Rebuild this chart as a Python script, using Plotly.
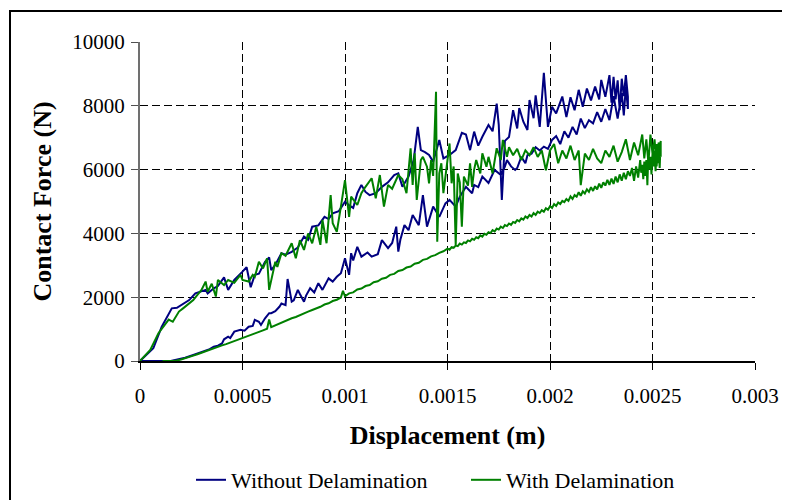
import plotly.graph_objects as go

# ---- data: (displacement [m], contact force [N]) ----
without_loading = [
    (0, 0), (0.000065, 400), (0.000106, 1075), (0.000155, 1650), (0.00018, 1670),
    (0.0002, 1750), (0.00024, 1910), (0.00027, 2120), (0.00029, 2170), (0.00032, 2230),
    (0.00033, 2120), (0.00036, 2280), (0.00038, 2350), (0.00041, 2620), (0.00043, 2230),
    (0.00046, 2540), (0.0005, 2800), (0.00052, 2940), (0.00054, 2310), (0.00056, 2700),
    (0.00058, 2740), (0.00061, 3110), (0.00063, 3250), (0.00064, 2850), (0.00066, 3010),
    (0.00069, 3380), (0.00071, 3330), (0.00074, 3420), (0.00077, 3560), (0.0008, 3900),
    (0.00082, 3800), (0.00084, 4210), (0.00087, 4250), (0.0009, 4520), (0.00092, 4450),
    (0.00094, 4630), (0.00097, 4700), (0.001, 4990), (0.00102, 4880), (0.00104, 4800),
    (0.00106, 5260), (0.00108, 5520), (0.0011, 5300), (0.00112, 5200), (0.00115, 5260),
    (0.00118, 5460), (0.00121, 5600), (0.00124, 5830), (0.00126, 5880), (0.00128, 5460),
    (0.00131, 5780), (0.001335, 6300), (0.001355, 7340), (0.00137, 6610), (0.00139, 6550),
    (0.00141, 6460), (0.00143, 6250), (0.00146, 6930), (0.00148, 6350), (0.00151, 6460),
    (0.00154, 6610), (0.00157, 7150), (0.00159, 7100), (0.00161, 6610), (0.00163, 7190),
    (0.00165, 6750), (0.00167, 7030), (0.0017, 7400), (0.00172, 7200), (0.00174, 8070),
    (0.00175, 7400), (0.001765, 5050), (0.00178, 6900), (0.0018, 7020), (0.00182, 7860),
    (0.00184, 7290), (0.00185, 7930), (0.00187, 7500), (0.00189, 7240), (0.0019, 8180),
    (0.00192, 7610), (0.00193, 8330), (0.00195, 7340), (0.00197, 9030), (0.00199, 7340),
    (0.00201, 7970), (0.00203, 7760), (0.00206, 8290), (0.00208, 7650), (0.0021, 8270),
    (0.00212, 7860), (0.00214, 8500), (0.00216, 7970), (0.00218, 8540), (0.0022, 8170),
    (0.00222, 8600), (0.00224, 8200), (0.00225, 8810), (0.00227, 8280), (0.00229, 8960),
    (0.0023, 8100), (0.00231, 8910), (0.00232, 8200), (0.00233, 8800), (0.00234, 7860),
    (0.00235, 8850), (0.00236, 8300), (0.00237, 8960), (0.00238, 8280),
]
without_unloading = [
    (0.00238, 7900), (0.00237, 8600), (0.00236, 7700), (0.00235, 8400), (0.00233, 7600),
    (0.00231, 8300), (0.00229, 7550), (0.00227, 7900), (0.00225, 7500), (0.00223, 7800),
    (0.00221, 7450), (0.00219, 7550), (0.00217, 7300), (0.00215, 7600), (0.00213, 7100),
    (0.00211, 7340), (0.00209, 7000), (0.00207, 7200), (0.00205, 6800), (0.00203, 7050),
    (0.00201, 6930), (0.00199, 6650), (0.00197, 6720), (0.00195, 6600), (0.00193, 6700),
    (0.00191, 6500), (0.00189, 6450), (0.00188, 6200), (0.00186, 6400), (0.00184, 6050),
    (0.00183, 5990), (0.00181, 6100), (0.00179, 6300), (0.00178, 6090), (0.00176, 5830),
    (0.00173, 5990), (0.0017, 5580), (0.00167, 5780), (0.00165, 5450), (0.00163, 5520),
    (0.00162, 5260), (0.00159, 5460), (0.00156, 5150), (0.00154, 4840), (0.00151, 5050),
    (0.00149, 4940), (0.00146, 4520), (0.00143, 4840), (0.0014, 4210), (0.00138, 5200),
    (0.00137, 4630), (0.00136, 4260), (0.00133, 4580), (0.00131, 4100), (0.00129, 4260),
    (0.00127, 3800), (0.00126, 3430), (0.00125, 4210), (0.00123, 3700), (0.00121, 3540),
    (0.00118, 3790), (0.00116, 3350), (0.00113, 3270), (0.00111, 3400), (0.00108, 3270),
    (0.00106, 3580), (0.00104, 3150), (0.00103, 3380), (0.00102, 2700), (0.001, 3220),
    (0.00098, 2750), (0.00096, 2640), (0.00094, 2490), (0.00092, 2590), (0.00089, 2230),
    (0.00087, 2440), (0.00085, 2150), (0.00083, 2280), (0.00081, 2050), (0.0008, 1860),
    (0.00078, 2100), (0.00077, 2230), (0.00075, 1900), (0.00074, 1860), (0.00072, 2570),
    (0.00071, 1750), (0.00069, 1800), (0.00068, 1700), (0.00066, 1560), (0.00064, 1500),
    (0.00063, 1500), (0.00061, 1340), (0.00059, 1130), (0.00058, 1230), (0.00056, 1290),
    (0.00055, 1100), (0.00053, 1075), (0.00051, 950), (0.00049, 980), (0.00046, 920),
    (0.00044, 720), (0.00043, 760), (0.00041, 680), (0.0004, 550), (0.00038, 480),
    (0.00036, 450), (0.00034, 370), (0.0003, 290), (0.00026, 190), (0.00022, 100),
    (0.00018, 40), (0.00015, 0), (0.0, 0),
]
with_loading = [
    (0, 0), (0.00005, 350), (0.00009, 870), (0.00012, 1130), (0.00014, 1300),
    (0.00016, 1230), (0.00019, 1550), (0.00021, 1650), (0.00024, 1810), (0.00026, 1910),
    (0.00028, 2070), (0.0003, 2230), (0.00032, 2490), (0.00033, 2170), (0.00035, 2420),
    (0.00037, 2020), (0.00038, 2540), (0.00041, 2380), (0.00043, 2540), (0.00046, 2450),
    (0.00049, 2700), (0.0005, 2540), (0.00053, 2490), (0.00055, 2700), (0.00056, 2640),
    (0.00058, 3110), (0.0006, 2900), (0.00062, 3220), (0.00063, 2230), (0.00066, 3110),
    (0.00067, 2950), (0.00069, 3380), (0.00071, 3300), (0.00074, 3690), (0.00076, 3220),
    (0.00078, 3790), (0.0008, 3480), (0.00082, 4000), (0.00084, 3690), (0.00086, 4210),
    (0.00088, 3640), (0.00089, 4420), (0.00091, 3690), (0.00093, 5200), (0.00094, 4320),
    (0.00096, 4050), (0.00098, 4840), (0.001, 5670), (0.00102, 4520), (0.00103, 5150),
    (0.00106, 4890), (0.00108, 5260), (0.0011, 5460), (0.00113, 5730), (0.00115, 5100),
    (0.00117, 5830), (0.00119, 4840), (0.00121, 5520), (0.00123, 5400), (0.00126, 5830),
    (0.00128, 5700), (0.0013, 5260), (0.00132, 6670), (0.00133, 5520), (0.00134, 6510),
    (0.00135, 5050), (0.00137, 6300), (0.00138, 6400), (0.0014, 6090), (0.00141, 5570),
    (0.00142, 6300), (0.00143, 5800), (0.001444, 8440), (0.00145, 3740), (0.00146, 5880),
    (0.00147, 6200), (0.00148, 5260), (0.0015, 6400), (0.00151, 6820), (0.00152, 5570),
    (0.00153, 6100), (0.00154, 3640), (0.00155, 5880), (0.00156, 5600), (0.00157, 4210),
    (0.00158, 5780), (0.0016, 5500), (0.00161, 6200), (0.00162, 5460), (0.00163, 6000),
    (0.00164, 6300), (0.00166, 5880), (0.00167, 6510), (0.00169, 6090), (0.0017, 6400),
    (0.00172, 5880), (0.00174, 6670), (0.00176, 6300), (0.00177, 6930), (0.00179, 6400),
    (0.0018, 6700), (0.00182, 6450), (0.00184, 6650), (0.00186, 6300), (0.00188, 6600),
    (0.0019, 6450), (0.00192, 6700), (0.00194, 6400), (0.00196, 6600), (0.00198, 5980),
    (0.002, 6600), (0.00202, 6800), (0.00204, 6200), (0.00206, 6600), (0.00208, 6350),
    (0.0021, 6750), (0.00212, 6300), (0.00214, 6600), (0.00215, 5510), (0.00217, 6500),
    (0.00219, 6300), (0.00221, 6650), (0.00223, 6350), (0.00225, 6200), (0.00227, 6600),
    (0.00229, 6400), (0.00231, 6750), (0.00233, 6250), (0.00235, 6550), (0.00237, 6950),
    (0.00239, 6300), (0.00241, 6850), (0.00243, 6450), (0.00245, 7100), (0.00246, 6350),
    (0.00247, 6950), (0.00248, 6200), (0.00249, 7100), (0.0025, 6500), (0.00251, 6950),
    (0.00252, 6100), (0.00253, 6850), (0.00254, 6400),
]
with_unloading = [
    (0.00254, 6900), (0.002535, 6050), (0.00253, 6700), (0.002525, 6200), (0.00252, 6800),
    (0.002515, 5950), (0.00251, 6600), (0.002505, 6100), (0.0025, 6500), (0.002495, 5850),
    (0.00249, 6400), (0.002485, 6000), (0.00248, 6550), (0.002475, 5510), (0.00247, 6300),
    (0.002465, 5800), (0.00246, 6250), (0.002455, 5700), (0.00245, 6150), (0.002445, 5900),
    (0.00244, 6300), (0.00243, 5750), (0.00242, 6100), (0.00241, 5650), (0.0024, 6050),
    (0.00239, 5800), (0.00238, 5950), (0.00237, 5700), (0.00236, 5900), (0.00235, 5650),
    (0.00234, 5850), (0.00233, 5600), (0.00232, 5780), (0.00231, 5550), (0.0023, 5720),
    (0.00229, 5520), (0.00228, 5680), (0.00227, 5500), (0.00226, 5600), (0.00225, 5430),
    (0.00224, 5560), (0.00223, 5380), (0.00222, 5480), (0.00221, 5330), (0.0022, 5450),
    (0.00219, 5300), (0.00218, 5380), (0.00217, 5250), (0.00216, 5320), (0.00215, 5180),
    (0.00214, 5290), (0.00213, 5150), (0.00212, 5200), (0.00211, 5080), (0.0021, 5160),
    (0.00209, 5020), (0.00208, 5080), (0.00207, 4980), (0.00206, 5020), (0.00205, 4920),
    (0.00204, 4970), (0.00203, 4860), (0.00202, 4920), (0.00201, 4800), (0.002, 4850),
    (0.00199, 4740), (0.00198, 4790), (0.00197, 4680), (0.00196, 4730), (0.00195, 4640),
    (0.00194, 4680), (0.00193, 4580), (0.00192, 4640), (0.00191, 4530), (0.0019, 4580),
    (0.00189, 4480), (0.00188, 4530), (0.00187, 4430), (0.00186, 4470), (0.00185, 4380),
    (0.00184, 4420), (0.00183, 4330), (0.00182, 4360), (0.00181, 4270), (0.0018, 4310),
    (0.00179, 4230), (0.00178, 4260), (0.00177, 4170), (0.00176, 4210), (0.00175, 4120),
    (0.00174, 4150), (0.00173, 4060), (0.00172, 4100), (0.00171, 4010), (0.0017, 4040),
    (0.00169, 3960), (0.00168, 3990), (0.00167, 3900), (0.00166, 3940), (0.00165, 3850),
    (0.00164, 3880), (0.00163, 3800), (0.00162, 3830), (0.00161, 3750), (0.0016, 3780),
    (0.00159, 3700), (0.00158, 3720), (0.00157, 3650), (0.00156, 3680), (0.00155, 3600),
    (0.00154, 3620), (0.00153, 3550), (0.00152, 3570), (0.00151, 3490), (0.0015, 3520),
    (0.00148, 3440), (0.00146, 3390), (0.00144, 3320), (0.00142, 3280), (0.0014, 3200),
    (0.00138, 3170), (0.00136, 3080), (0.00134, 3050), (0.00132, 2960), (0.0013, 2930),
    (0.00128, 2850), (0.00126, 2820), (0.00124, 2730), (0.00122, 2700), (0.0012, 2610),
    (0.00118, 2580), (0.00116, 2500), (0.00114, 2470), (0.00112, 2380), (0.0011, 2350),
    (0.00108, 2270), (0.00106, 2240), (0.00104, 2150), (0.00102, 2120), (0.001, 2030),
    (0.00099, 2200), (0.00098, 1990), (0.00096, 1920), (0.00094, 1880), (0.00092, 1810),
    (0.0009, 1770), (0.00088, 1700), (0.00086, 1660), (0.00084, 1600), (0.00082, 1550),
    (0.0008, 1490), (0.00078, 1450), (0.00076, 1380), (0.00074, 1340), (0.00072, 1280),
    (0.0007, 1230), (0.00068, 1170), (0.00066, 1120), (0.00064, 1060), (0.00063, 1300),
    (0.00062, 1010), (0.0006, 960), (0.00058, 910), (0.00056, 860), (0.00054, 810),
    (0.00052, 770), (0.0005, 720), (0.00048, 670), (0.00046, 630), (0.00044, 580),
    (0.00042, 530), (0.0004, 490), (0.00038, 440), (0.00036, 390), (0.00034, 350),
    (0.00032, 300), (0.0003, 260), (0.00028, 210), (0.00026, 170), (0.00024, 120),
    (0.00022, 80), (0.0002, 45), (0.00018, 15), (0.00016, 0), (0.00011, 0),
]

x_ticks = [0, 0.0005, 0.001, 0.0015, 0.002, 0.0025, 0.003]
x_tick_labels = ["0", "0.0005", "0.001", "0.0015", "0.002", "0.0025", "0.003"]
y_ticks = [0, 2000, 4000, 6000, 8000, 10000]
y_tick_labels = ["0", "2000", "4000", "6000", "8000", "10000"]

series_names = ["Without Delamination", "With Delamination"]
series_colors = ["#000080", "#008000"]

FONT = "Liberation Serif"

fig = go.Figure()
for name, color, load, unload in [
    (series_names[0], series_colors[0], without_loading, without_unloading),
    (series_names[1], series_colors[1], with_loading, with_unloading),
]:
    pts = load + unload
    fig.add_trace(go.Scatter(
        x=[p[0] for p in pts], y=[p[1] for p in pts],
        mode="lines", name=name,
        line=dict(color=color, width=2),
    ))

# The page body adds an 8px offset, so the figure is placed 8px up/left.
W, H = 790, 500
PLOT_X0, PLOT_X1, PLOT_Y0, PLOT_Y1 = 140, 755, 42, 361   # target screen px
OFF = 8
L = PLOT_X0 - OFF
T = PLOT_Y0 - OFF
pw = PLOT_X1 - PLOT_X0
ph = PLOT_Y1 - PLOT_Y0
R = W - L - pw
B = H - T - ph

def sx(px):
    return (px - PLOT_X0) / pw

def sy(py):
    return (PLOT_Y1 - py) / ph

fig.update_layout(
    width=W, height=H,
    margin=dict(l=L, r=R, t=T, b=B, autoexpand=False),
    paper_bgcolor="white", plot_bgcolor="white",
    font=dict(family=FONT, size=21, color="black"),
    showlegend=True,
    legend=dict(
        orientation="h",
        x=sx(191), xanchor="left",
        y=sy(480), yanchor="middle",
        font=dict(family=FONT, size=22, color="black"),
        entrywidth=230, entrywidthmode="pixels",
        bgcolor="rgba(0,0,0,0)",
    ),
    xaxis=dict(
        range=[0, 0.003], tickvals=x_ticks, ticktext=x_tick_labels,
        showgrid=True, gridcolor="black", gridwidth=1, griddash="8px,4px",
        zeroline=False, showline=True, linecolor="black", linewidth=2,
        ticks="outside", ticklen=7, tickcolor="black", tickwidth=1,
        ticklabelstandoff=8,
        tickfont=dict(family=FONT, size=21, color="black"),
        title=dict(text="<b>Displacement (m)</b>",
                   font=dict(family=FONT, size=26, color="black"), standoff=19),
        automargin=False,
    ),
    yaxis=dict(
        range=[0, 10000], tickvals=y_ticks, ticktext=y_tick_labels,
        showgrid=True, gridcolor="black", gridwidth=1, griddash="8px,4px",
        zeroline=False, showline=True, linecolor="#707070", linewidth=2,
        ticks="outside", ticklen=7, tickcolor="#505050", tickwidth=1,
        ticklabelstandoff=2,
        tickfont=dict(family=FONT, size=21, color="black"),
        title=dict(text="<b>Contact Force (N)</b>",
                   font=dict(family=FONT, size=26, color="black"), standoff=13),
        automargin=False,
    ),
    shapes=[dict(
        type="rect", xref="paper", yref="paper",
        x0=sx(10), x1=sx(900),
        y0=sy(600), y1=sy(11),
        line=dict(color="black", width=2), fillcolor="rgba(0,0,0,0)",
        layer="above",
    )],
)

fig.write_html("out.html")
